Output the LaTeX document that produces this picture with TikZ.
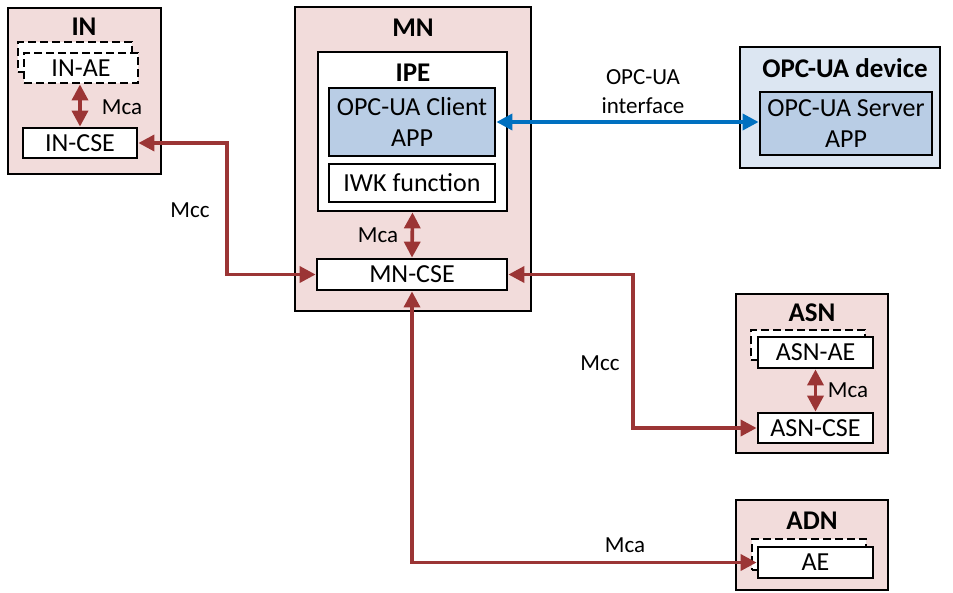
\documentclass[tikz,border=0pt]{standalone}
\usepackage{fontspec}
\setmainfont{Carlito}
\usetikzlibrary{arrows.meta}
\definecolor{nodepink}{HTML}{F2DCDB}
\definecolor{devblue}{HTML}{DCE6F2}
\definecolor{appblue}{HTML}{B9CDE5}
\definecolor{arrred}{HTML}{9B3535}
\definecolor{arrblue}{HTML}{0070C0}
\tikzset{
  bx/.style={draw=black, line width=2.8pt, inner sep=0pt, fill=white,
    font=\fontsize{26}{31}\selectfont, align=center},
  container/.style={bx, fill=nodepink},
  dbx/.style={bx, dash pattern=on 8pt off 4pt},
  ttl/.style={inner sep=0pt, font=\fontsize{27}{31}\selectfont\bfseries},
  lbl/.style={inner sep=0pt, font=\fontsize{23}{29}\selectfont, align=center},
  redarr/.style={draw=arrred, line width=3.6pt, {Triangle[length=16pt,width=16pt]}-{Triangle[length=16pt,width=16pt]}},
  bluearr/.style={draw=arrblue, line width=3.6pt, {Triangle[length=16pt,width=16pt]}-{Triangle[length=16pt,width=16pt]}},
}
\begin{document}
\begin{tikzpicture}[x=1pt,y=-1pt]
\useasboundingbox (0,0) rectangle (953,592);
% IN
\node[container, minimum width=153pt, minimum height=166pt] (in) at (84.5,91) {};
\node[ttl] (intitle) at (84,27) {IN};
\node[dbx, minimum width=114pt, minimum height=30pt] (inaeb) at (75,57) {};
\node[dbx, minimum width=114pt, minimum height=30pt] (inae) at (81,68) {IN-AE};
\node[bx, minimum width=114pt, minimum height=30pt] (incse) at (80,143) {IN-CSE};
\draw[redarr] (inae.south -| 80,0) -- (incse.north);
\node[lbl] (inmca) at (122,107) {Mca};
% MN
\node[container, minimum width=236pt, minimum height=304pt] (mn) at (413,159) {};
\node[ttl] (mntitle) at (413,28) {MN};
\node[bx, minimum width=189pt, minimum height=159pt] (ipe) at (412.5,131.5) {};
\node[ttl] (ipetitle) at (413,73) {IPE};
\node[bx, fill=appblue, minimum width=166pt, minimum height=68pt] (client) at (412,122) {OPC-UA Client\\APP};
\node[bx, minimum width=166pt, minimum height=38pt] (iwk) at (412,183) {IWK function};
\node[bx, minimum width=190pt, minimum height=31pt] (mncse) at (412,274.5) {MN-CSE};
\draw[redarr] (ipe.south) -- (mncse.north);
\node[lbl] (mnmca) at (378,235) {Mca};
% OPC-UA device
\node[bx, fill=devblue, minimum width=200pt, minimum height=121pt] (dev) at (840,107.5) {};
\node[ttl] (devtitle) at (845,68) {OPC-UA device};
\node[bx, fill=appblue, minimum width=172pt, minimum height=63pt] (server) at (846,123.5) {OPC-UA Server\\APP};
\draw[bluearr] (client.east) -- (client.east -| server.west);
\node[lbl] (opclbl) at (643,92) {OPC-UA\\interface};
% ASN
\node[container, minimum width=152pt, minimum height=159pt] (asn) at (812,373.5) {};
\node[ttl] (asntitle) at (812,313) {ASN};
\node[dbx, minimum width=114pt, minimum height=30pt] (asnaeb) at (808,345) {};
\node[bx, minimum width=115pt, minimum height=31pt] (asnae) at (815.5,352.5) {ASN-AE};
\node[bx, minimum width=115pt, minimum height=30pt] (asncse) at (815.5,428) {ASN-CSE};
\draw[redarr] (asnae.south) -- (asncse.north);
\node[lbl] (asnmca) at (848,390) {Mca};
% ADN
\node[container, minimum width=152pt, minimum height=90pt] (adn) at (812,545) {};
\node[ttl] (adntitle) at (812,521) {ADN};
\node[dbx, minimum width=114pt, minimum height=31pt] (aeb) at (809,554.5) {};
\node[bx, minimum width=115pt, minimum height=31pt] (ae) at (815.5,562.5) {AE};
% connectors
\coordinate (c1) at (227,143);
\coordinate (c2) at (227,274.5);
\draw[redarr] (incse.east) -- (c1) -- (c2) -- (mncse.west);
\node[lbl] (mcc1) at (190,210) {Mcc};
\coordinate (c3) at (633,274.5);
\coordinate (c4) at (633,428);
\draw[redarr] (mncse.east) -- (c3) -- (c4) -- (asncse.west);
\node[lbl] (mcc2) at (600,363) {Mcc};
\coordinate (c5) at (412,562.5);
\draw[redarr] (mncse.south) -- (c5) -- (ae.west);
\node[lbl] (mca3) at (625,545) {Mca};
\end{tikzpicture}
\end{document}
